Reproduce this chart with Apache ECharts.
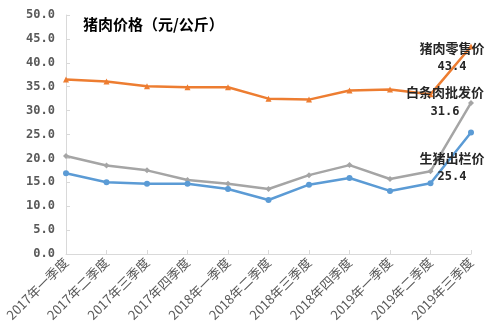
<!DOCTYPE html>
<html><head><meta charset="utf-8">
<script src="https://cdn.jsdelivr.net/npm/echarts@6/dist/echarts.min.js"></script>
<style>html,body{margin:0;padding:0;background:#fff}#c{width:493px;height:333px}</style>
</head><body><div id="c"></div>
<script>
const categories = ['2017年一季度','2017年二季度','2017年三季度','2017年四季度','2018年一季度','2018年二季度','2018年三季度','2018年四季度','2019年一季度','2019年二季度','2019年三季度'];
const retailPrice = [36.5, 36.1, 35.1, 34.9, 34.9, 32.5, 32.3, 34.2, 34.4, 33.4, 43.4];
const wholesalePrice = [20.5, 18.5, 17.5, 15.5, 14.7, 13.6, 16.5, 18.6, 15.7, 17.3, 31.6];
const livePigPrice = [16.9, 15.0, 14.7, 14.7, 13.6, 11.3, 14.5, 15.9, 13.2, 14.8, 25.4];
const seriesNames = ['猪肉零售价','白条肉批发价','生猪出栏价'];
const yTicks = [0, 5, 10, 15, 20, 25, 30, 35, 40, 45, 50];

const chart = echarts.init(document.getElementById('c'), null, {renderer:'canvas'});
const cjk = '"Noto Sans CJK SC", sans-serif';
const mono = '"DejaVu Sans Mono", monospace';

function withEndLabel(values, name, offset){
  const last = values.length - 1;
  return values.map((v, i) => i !== last ? v : {
    value: v,
    label: {
      show: true,
      position: 'inside',
      offset: offset,
      formatter: '{n|' + name + '}\n{v|' + v.toFixed(1) + '}',
      rich: {
        n: {fontFamily: cjk, fontWeight: 'bold', fontSize: 13, color: '#262626', lineHeight: 19, align: 'center'},
        v: {fontFamily: mono, fontWeight: 'bold', fontSize: 12, color: '#262626', lineHeight: 19, align: 'center'}
      }
    }
  });
}

const option = {
  animation: false,
  title: {
    text: '猪肉价格（元/公斤）',
    left: 78, top: 12,
    textStyle: {fontFamily: cjk, fontWeight: 'bold', fontSize: 15, color: '#000'}
  },
  grid: {left: 66, right: 22, top: 15, bottom: 79, containLabel: false},
  xAxis: {
    type: 'category',
    data: categories,
    boundaryGap: false,
    axisLine: {lineStyle: {color: '#d9d9d9', width: 1}},
    axisTick: {show: true, inside: true, length: 4, lineStyle: {color: '#d9d9d9'}},
    axisLabel: {rotate: 45, interval: 0, margin: 6, color: '#595959', fontSize: 13, fontFamily: cjk}
  },
  yAxis: {
    type: 'value',
    min: yTicks[0], max: yTicks[yTicks.length - 1], interval: 5,
    splitLine: {show: false},
    axisLine: {show: true, lineStyle: {color: '#d9d9d9', width: 1}},
    axisTick: {show: true, inside: true, length: 4, lineStyle: {color: '#d9d9d9'}},
    axisLabel: {formatter: v => v.toFixed(1), color: '#595959', fontSize: 12, fontWeight: 'bold', fontFamily: mono, margin: 11}
  },
  series: [
    {name: seriesNames[0], type: 'line', data: withEndLabel(retailPrice, seriesNames[0], [-19, 11]),
     symbol: 'triangle', symbolSize: 6, lineStyle: {width: 2.5, color: '#ED7D31'}, itemStyle: {color: '#ED7D31'}},
    {name: seriesNames[1], type: 'line', data: withEndLabel(wholesalePrice, seriesNames[1], [-26, -1]),
     symbol: 'diamond', symbolSize: 6, lineStyle: {width: 2.5, color: '#A5A5A5'}, itemStyle: {color: '#A5A5A5'}},
    {name: seriesNames[2], type: 'line', data: withEndLabel(livePigPrice, seriesNames[2], [-19, 35]),
     symbol: 'circle', symbolSize: 6, lineStyle: {width: 2.5, color: '#5B9BD5'}, itemStyle: {color: '#5B9BD5'}}
  ]
};
chart.setOption(option);
</script></body></html>
